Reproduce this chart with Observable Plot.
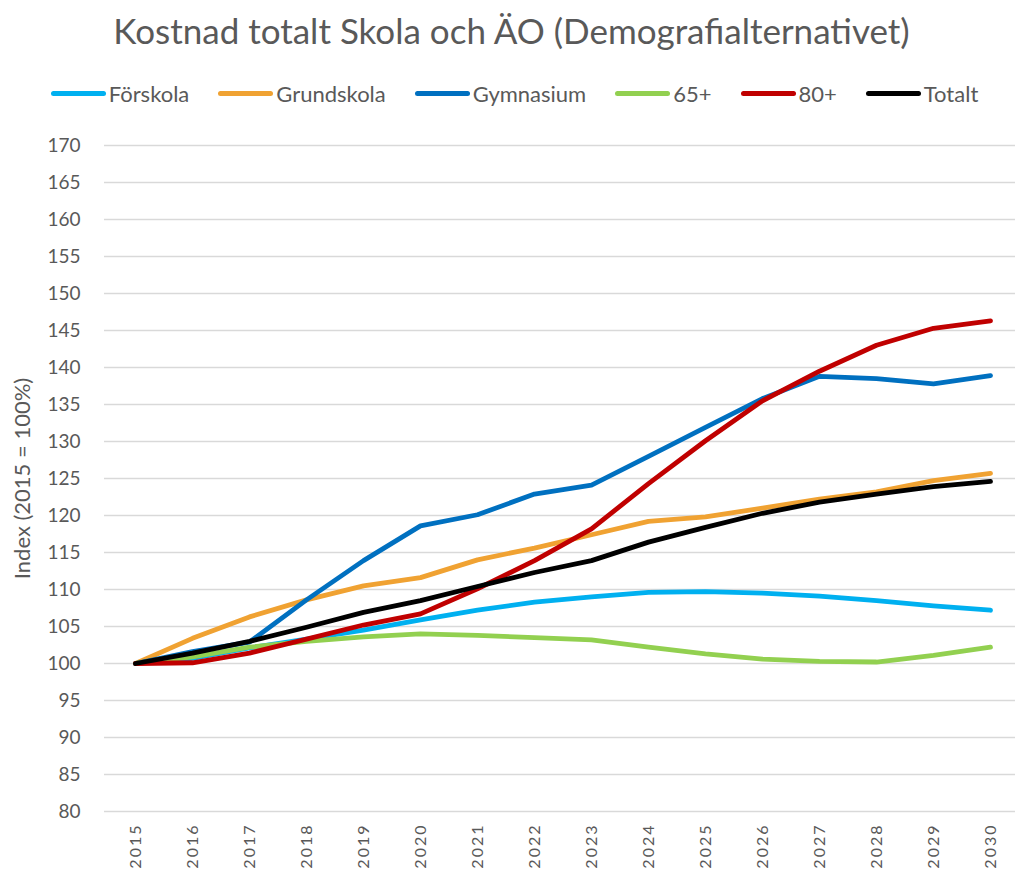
<!DOCTYPE html>
<html><head><meta charset="utf-8">
<script src="https://cdn.jsdelivr.net/npm/d3@7"></script>
<script src="https://cdn.jsdelivr.net/npm/@observablehq/plot@0.6"></script>
<style>
body{margin:0;background:#fff;font-family:Lato,"Open Sans",sans-serif;color:#595959;width:1015px;overflow:hidden;}
#title{height:60px;line-height:60px;text-align:center;font-size:35px;white-space:nowrap;padding-left:8px;box-sizing:border-box;}
#legend{height:60px;display:flex;justify-content:center;align-items:center;font-size:22px;padding-top:6px;padding-left:14px;box-sizing:border-box;}
.item{display:flex;align-items:center;margin:0 14.5px;}
.sw{width:55px;height:5px;border-radius:3px;margin-right:3px;}
#chart svg{display:block;}
</style></head>
<body>
<div id="title">Kostnad totalt Skola och ÄO (Demografialternativet)</div>
<div id="legend"></div>
<div id="chart"></div>
<script>
const years = ["2015","2016","2017","2018","2019","2020","2021","2022","2023","2024","2025","2026","2027","2028","2029","2030"];
const seriesNames = ["Förskola","Grundskola","Gymnasium","65+","80+","Totalt"];
const seriesColors = ["#00b0f0","#f0a232","#0070c0","#92d050","#c00000","#000000"];
const forskola   = [100,100.7,102.1,103.3,104.5,105.9,107.2,108.3,109.0,109.6,109.7,109.5,109.1,108.5,107.8,107.2];
const grundskola = [100,103.4,106.3,108.6,110.5,111.6,114.0,115.6,117.4,119.2,119.8,121.0,122.2,123.2,124.7,125.7];
const gymnasium  = [100,101.6,102.9,108.6,113.9,118.6,120.1,122.9,124.1,128.0,131.9,135.8,138.8,138.5,137.8,138.9];
const plus65     = [100,100.9,102.2,103.0,103.6,104.0,103.8,103.5,103.2,102.2,101.3,100.6,100.3,100.2,101.1,102.2];
const plus80     = [100,100.1,101.4,103.3,105.2,106.7,110.1,113.9,118.2,124.3,130.1,135.5,139.5,143.0,145.3,146.3];
const totalt     = [100,101.4,103.0,104.9,106.9,108.5,110.4,112.3,113.9,116.4,118.4,120.3,121.8,122.9,123.9,124.6];
const yTicks = d3.range(80, 171, 5);

const seriesValues = [forskola, grundskola, gymnasium, plus65, plus80, totalt];
const data = [];
seriesNames.forEach((s, i) => years.forEach((y, j) => data.push({series: s, year: y, value: seriesValues[i][j]})));

// legend
const leg = document.getElementById("legend");
seriesNames.forEach((s, i) => {
  const it = document.createElement("div"); it.className = "item";
  const sw = document.createElement("div"); sw.className = "sw"; sw.style.background = seriesColors[i];
  const tx = document.createElement("span"); tx.textContent = s;
  it.appendChild(sw); it.appendChild(tx); leg.appendChild(it);
});

const chart = Plot.plot({
  width: 1015,
  height: 753,
  marginTop: 25,
  marginBottom: 62,
  marginLeft: 104,
  marginRight: 0,
  style: {fontFamily: "Lato, 'Open Sans', sans-serif", color: "#595959", background: "#fff"},
  x: {type: "point", domain: years, range: [133, 992], padding: 0},
  y: {domain: [80, 170], ticks: yTicks},
  color: {domain: seriesNames, range: seriesColors},
  marks: [
    Plot.gridY(yTicks, {stroke: "#d9d9d9", strokeOpacity: 1, strokeWidth: 1.5}),
    Plot.axisY(yTicks, {tickSize: 0, tickPadding: 24, fontSize: 19, label: "Index (2015 = 100%)", labelAnchor: "center", labelArrow: "none", labelOffset: 90, tickFormat: d => d}),
    Plot.axisX(years, {tickSize: 0, tickPadding: 12, tickRotate: -90, fontSize: 16, label: null}),
    Plot.lineY(data, {x: "year", y: "value", z: "series", stroke: "series", strokeWidth: 4.8, strokeLinecap: "round", strokeLinejoin: "round"})
  ]
});
document.getElementById("chart").appendChild(chart);
// style tweaks
chart.querySelectorAll('[aria-label="y-axis label"] text').forEach(t => t.setAttribute("font-size", 22));
chart.querySelectorAll('[aria-label="x-axis tick label"] text').forEach(t => t.setAttribute("letter-spacing", "2"));
</script>
</body></html>
